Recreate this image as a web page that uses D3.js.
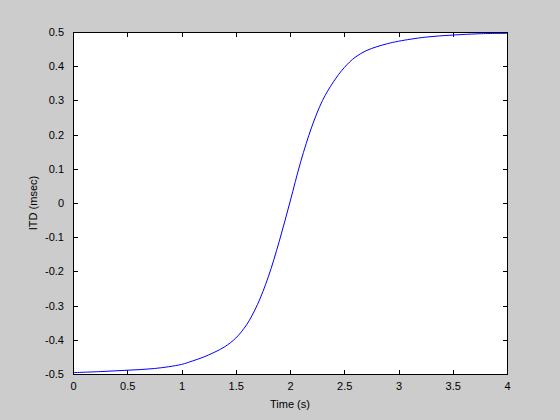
<!DOCTYPE html>
<html><head><meta charset="utf-8">
<script src="https://cdn.jsdelivr.net/npm/d3@7"></script>
<style>
html,body{margin:0;padding:0;background:#cccccc;}
svg{display:block;}
text{font-family:"Liberation Sans",Arial,Helvetica,sans-serif;font-size:11px;fill:#000;}
</style></head>
<body>
<script>
const timeS = [0,0.25,0.5,0.75,1.0,1.1,1.2,1.3,1.4,1.5,1.6,1.7,1.8,1.9,2.0,2.1,2.2,2.3,2.4,2.5,2.6,2.7,2.8,2.9,3.0,3.25,3.5,3.75,4.0];
const itdMs = [-0.496,-0.493,-0.489,-0.484,-0.472,-0.462,-0.451,-0.437,-0.420,-0.395,-0.356,-0.297,-0.216,-0.113,0.003,0.122,0.222,0.300,0.354,0.396,0.426,0.445,0.457,0.466,0.473,0.485,0.491,0.495,0.496];
const xTicks = [0,0.5,1,1.5,2,2.5,3,3.5,4];
const xTickLabels = ["0","0.5","1","1.5","2","2.5","3","3.5","4"];
const yTicks = [-0.5,-0.4,-0.3,-0.2,-0.1,0,0.1,0.2,0.3,0.4,0.5];
const yTickLabels = ["-0.5","-0.4","-0.3","-0.2","-0.1","0","0.1","0.2","0.3","0.4","0.5"];
const xLabel = "Time (s)";
const yLabel = "ITD (msec)";

const W = 560, H = 420;
const L = 73, R = 507, T = 32, B = 374;
const svg = d3.select("body").append("svg").attr("width", W).attr("height", H);
svg.append("rect").attr("width", W).attr("height", H).attr("fill", "#cccccc");

const x = d3.scaleLinear().domain([0,4]).range([L,R]);
const y = d3.scaleLinear().domain([-0.5,0.5]).range([B,T]);

svg.append("rect").attr("x", L).attr("y", T).attr("width", R-L).attr("height", B-T).attr("fill", "#fff");

const tl = 4.5;
const fmtX = (d,i) => xTickLabels[i];
const fmtY = (d,i) => yTickLabels[i];

const gx = svg.append("g").attr("transform", `translate(0,${B})`)
  .call(d3.axisBottom(x).tickValues(xTicks).tickFormat(fmtX).tickSizeInner(-tl).tickSizeOuter(0).tickPadding(8));
const gxt = svg.append("g").attr("transform", `translate(0,${T})`)
  .call(d3.axisTop(x).tickValues(xTicks).tickFormat("").tickSizeInner(-tl).tickSizeOuter(0));
const gy = svg.append("g").attr("transform", `translate(${L},0)`)
  .call(d3.axisLeft(y).tickValues(yTicks).tickFormat(fmtY).tickSizeInner(-tl).tickSizeOuter(0).tickPadding(9));
const gyr = svg.append("g").attr("transform", `translate(${R},0)`)
  .call(d3.axisRight(y).tickValues(yTicks).tickFormat("").tickSizeInner(-tl).tickSizeOuter(0));

[gx,gxt,gy,gyr].forEach(g => {
  g.selectAll("path.domain").remove();
  g.selectAll("line").attr("stroke","#000").attr("shape-rendering","crispEdges");
  g.selectAll("text").attr("font-size","11px").attr("font-family",'"Liberation Sans",Arial,sans-serif').attr("fill","#000");
});

const line = d3.line().x((d,i)=>x(timeS[i])).y((d,i)=>y(itdMs[i])).curve(d3.curveCatmullRom.alpha(0.5));
svg.append("path").datum(itdMs).attr("d", line).attr("fill","none").attr("stroke","#0000ff").attr("stroke-width",1);

svg.append("rect").attr("x", L+0.5).attr("y", T+0.5).attr("width", R-L).attr("height", B-T)
  .attr("fill","none").attr("stroke","#000").attr("stroke-width",1).attr("shape-rendering","crispEdges");

svg.append("text").attr("x", (L+R)/2).attr("y", 408).attr("text-anchor","middle").text(xLabel);
svg.append("text").attr("transform", `translate(37,${(T+B)/2}) rotate(-90)`).attr("text-anchor","middle").text(yLabel);
</script>
</body></html>
